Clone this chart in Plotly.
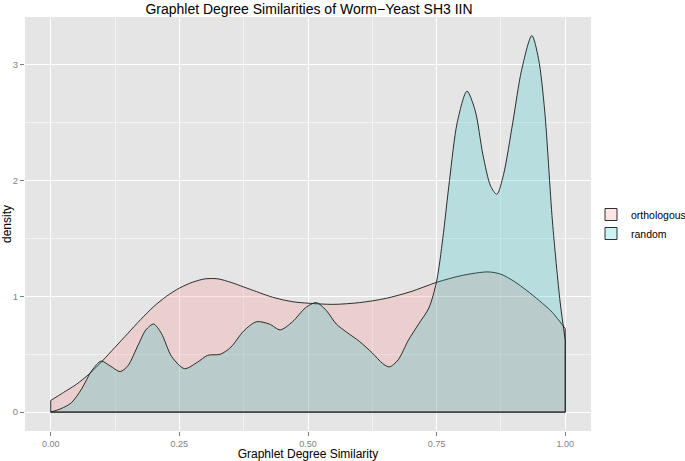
import plotly.graph_objects as go

# Data
ortho_x = [0.0, 0.025, 0.05, 0.075, 0.1, 0.125, 0.15, 0.175, 0.2, 0.225, 0.25, 0.275, 0.3, 0.325,
           0.35, 0.375, 0.4, 0.425, 0.45, 0.475, 0.5, 0.55, 0.6, 0.65, 0.7, 0.75, 0.8, 0.85, 0.875,
           0.9, 0.925, 0.95, 0.975, 1.0]
ortho_y = [0.10, 0.17, 0.24, 0.33, 0.44, 0.56, 0.68, 0.80, 0.91, 1.00, 1.07, 1.12, 1.15, 1.15,
           1.12, 1.08, 1.04, 1.00, 0.97, 0.95, 0.94, 0.93, 0.945, 0.98, 1.04, 1.12, 1.18, 1.21, 1.19,
           1.13, 1.05, 0.96, 0.86, 0.72]

rand_x = [0.0, 0.02, 0.04, 0.06, 0.08, 0.098, 0.115, 0.135, 0.15, 0.17, 0.185, 0.2, 0.215, 0.235,
          0.26, 0.285, 0.305, 0.33, 0.35, 0.375, 0.4, 0.425, 0.446, 0.47, 0.495, 0.516, 0.535,
          0.555, 0.575, 0.6, 0.625, 0.645, 0.658, 0.675, 0.695, 0.715, 0.735, 0.75, 0.762, 0.775,
          0.79, 0.809, 0.825, 0.84, 0.855, 0.867, 0.88, 0.898, 0.915, 0.935, 0.948, 0.96, 0.975,
          0.99, 1.0]
rand_y = [0.0, 0.03, 0.08, 0.20, 0.36, 0.44, 0.40, 0.35, 0.40, 0.58, 0.71, 0.76, 0.68, 0.48,
          0.375, 0.43, 0.49, 0.50, 0.56, 0.70, 0.78, 0.76, 0.71, 0.78, 0.90, 0.945, 0.88,
          0.76, 0.69, 0.61, 0.51, 0.42, 0.39, 0.45, 0.62, 0.76, 0.90, 1.13, 1.50, 2.00,
          2.50, 2.77, 2.60, 2.22, 1.95, 1.88, 2.05, 2.50, 2.95, 3.25, 3.05, 2.60, 1.65,
          0.95, 0.62]

series = [
    ("orthologous", ortho_x, ortho_y, "rgba(248,118,109,0.2)"),
    ("random", rand_x, rand_y, "rgba(0,191,196,0.2)"),
]

x_ticks = [0.0, 0.25, 0.5, 0.75, 1.0]
x_labels = ["0.00", "0.25", "0.50", "0.75", "1.00"]
y_ticks = [0, 1, 2, 3]

FONT = "Liberation Sans, Arial, sans-serif"
LINE = "#1a1a1a"
fig = go.Figure()
for name, xs, ys, col in series:
    fig.add_trace(go.Scatter(
        x=xs, y=ys, name=name, mode="lines", fill="tozeroy", fillcolor=col,
        showlegend=False,
        line=dict(color=LINE, width=0.9, shape="spline", smoothing=0.8),
    ))
for name, xs, ys, col in series:
    fig.add_trace(go.Scatter(
        x=[xs[0], xs[0], xs[-1], xs[-1]], y=[ys[0], 0, 0, ys[-1]],
        mode="lines", showlegend=False, hoverinfo="skip",
        line=dict(color=LINE, width=0.9),
    ))
# legend keys (filled boxes like ggplot)
for name, xs, ys, col in series:
    fig.add_trace(go.Bar(
        x=[None], y=[None], name=name,
        marker=dict(color=col, line=dict(color=LINE, width=0.9)),
    ))

fig.update_layout(
    width=685, height=461,
    margin=dict(l=25, r=92, t=17, b=30),
    paper_bgcolor="white", plot_bgcolor="#E5E5E5",
    font=dict(family=FONT, size=11, color="black"),
    title=dict(text="Graphlet Degree Similarities of Worm\u2212Yeast SH3 IIN",
               x=(25 + 593) / 2 / 685, xanchor="center", y=1 - 9 / 461, yanchor="middle",
               font=dict(size=14, color="black")),
    legend=dict(xref="container", yref="container", x=591 / 685, y=1 - 224 / 461,
                xanchor="left", yanchor="middle", bgcolor="rgba(0,0,0,0)",
                font=dict(size=10.5), tracegroupgap=0, itemwidth=30),
    showlegend=True,
)
fig.update_xaxes(
    range=[-0.05, 1.05], tickvals=x_ticks, ticktext=x_labels,
    showgrid=True, gridcolor="white", gridwidth=1.2, zeroline=False,
    minor=dict(dtick=0.125, tick0=0, showgrid=True, gridcolor="#F2F2F2", gridwidth=0.6),
    ticks="outside", ticklen=4, tickcolor="#7F7F7F", tickfont=dict(size=9, color="#7F7F7F"),
    title=dict(text="Graphlet Degree Similarity", font=dict(size=12), standoff=5),
    automargin=False, showline=False,
)
fig.update_yaxes(
    range=[-0.163, 3.41], tickvals=y_ticks,
    showgrid=True, gridcolor="white", gridwidth=1.2, zeroline=False,
    minor=dict(dtick=0.5, tick0=0, showgrid=True, gridcolor="#F2F2F2", gridwidth=0.6),
    ticks="outside", ticklen=4, tickcolor="#7F7F7F", tickfont=dict(size=9.5, color="#7F7F7F"),
    title=dict(text="density", font=dict(size=12), standoff=3),
    automargin=False, showline=False,
)

fig.write_html("out.html", config={"displayModeBar": False},
               post_script="document.body.style.margin='0';document.body.style.overflow='hidden';")
